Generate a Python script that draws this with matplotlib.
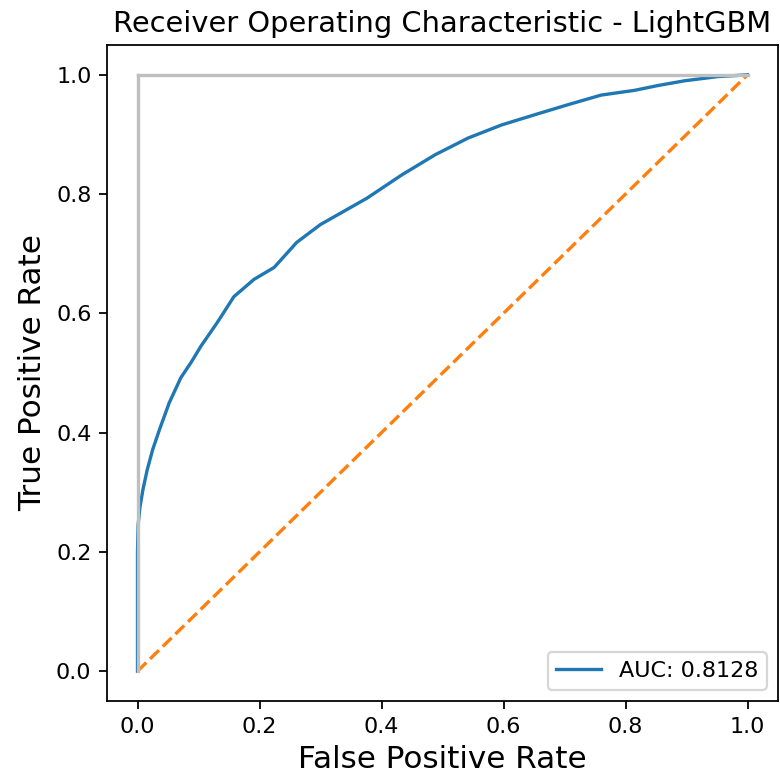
import matplotlib
matplotlib.use("Agg")
import matplotlib.pyplot as plt

fpr = [0.0, 0.0, 0.001, 0.004, 0.009, 0.016, 0.025, 0.036, 0.052, 0.071, 0.088,
       0.104, 0.131, 0.158, 0.191, 0.224, 0.261, 0.300, 0.338, 0.376, 0.433,
       0.488, 0.542, 0.597, 0.651, 0.706, 0.760, 0.815, 0.853, 0.897, 0.951, 1.0]
tpr = [0.0, 0.20, 0.245, 0.275, 0.305, 0.338, 0.372, 0.405, 0.450, 0.492, 0.518,
       0.545, 0.585, 0.628, 0.657, 0.677, 0.719, 0.749, 0.771, 0.793, 0.832,
       0.866, 0.894, 0.916, 0.933, 0.950, 0.966, 0.974, 0.982, 0.990, 0.997, 1.0]
auc_label = 'AUC: 0.8128'
title = 'Receiver Operating Characteristic - LightGBM'

fig = plt.figure(figsize=(780/160, 776/160), dpi=160)
ax = fig.add_axes([107/780, 1 - 701/776, (778-107)/780, (701-45)/776])
ax.plot(fpr, tpr, label=auc_label)
ax.plot([0, 1], ls='--')
ax.plot([0, 0], [1, 0], c='.75')
ax.plot([1, 1], c='.75')
ax.set_title(title, fontsize=13)
ax.set_ylabel('True Positive Rate', fontsize=14)
ax.set_xlabel('False Positive Rate', fontsize=14)
ax.legend(loc=4)
fig.savefig('out.png', dpi=160)
